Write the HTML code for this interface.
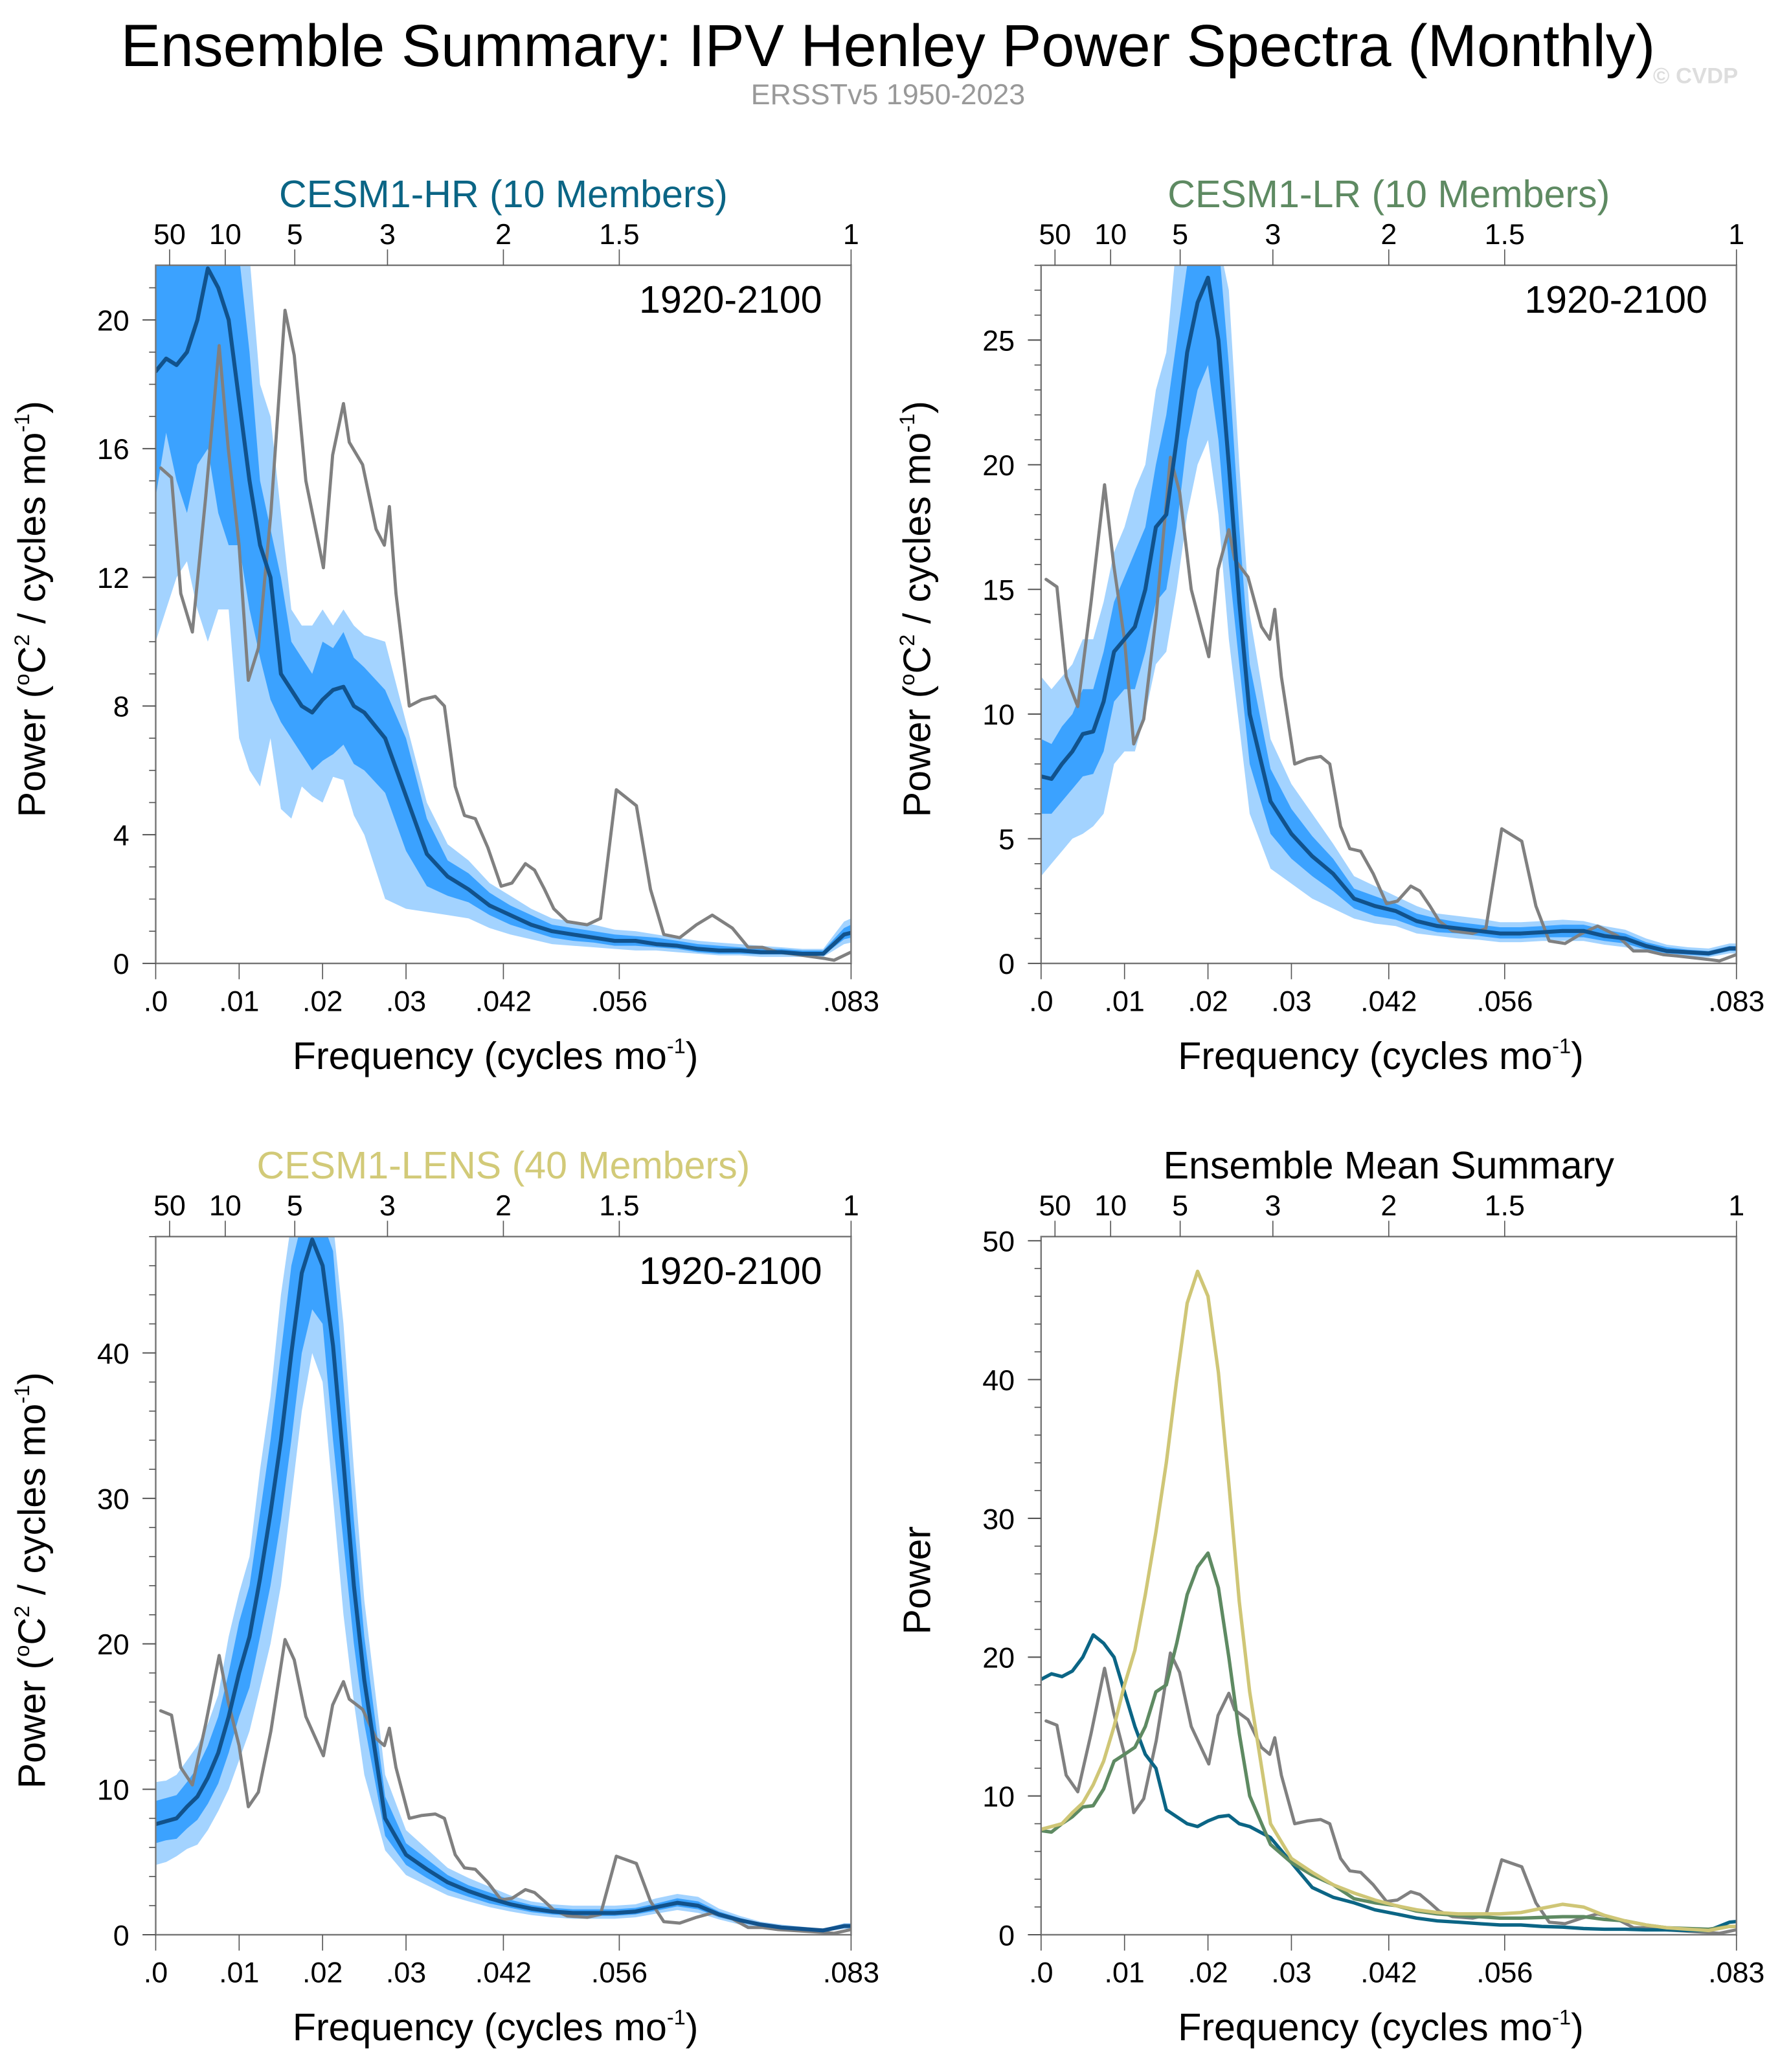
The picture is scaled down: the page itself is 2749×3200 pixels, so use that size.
<!DOCTYPE html>
<html><head><meta charset="utf-8"><style>
html,body{margin:0;padding:0;background:#fff;}
svg{display:block;font-family:"Liberation Sans",sans-serif;}
</style></head><body>
<svg id="fig" width="2749" height="3200" viewBox="0 0 1349 1570" preserveAspectRatio="none" xmlns="http://www.w3.org/2000/svg">
<text x="673" y="50" text-anchor="middle" font-size="45">Ensemble Summary: IPV Henley Power Spectra (Monthly)</text>
<text x="673" y="79" text-anchor="middle" font-size="22" fill="#999">ERSSTv5 1950-2023</text>
<text x="1285" y="63" text-anchor="middle" font-size="17" font-weight="bold" fill="#ddd">© CVDP</text>
</svg>
<script>
// ---- data ----
const freqs = [0,.00125,.0025,.00375,.005,.00625,.0075,.00875,.01,.01125,.0125,.01375,.015,.01625,.0175,.01875,.02,.02125,.0225,.02375,.025,.0275,.03,.0325,.035,.0375,.04,.0425,.045,.0475,.05,.0525,.055,.0575,.06,.0625,.065,.0675,.07,.0725,.075,.0775,.08,.0825,.08333];
const hrMean = [18.4,18.8,18.6,19.0,20.0,21.6,21.0,20.0,17.5,15.0,13.0,12.0,9.0,8.5,8.0,7.8,8.2,8.5,8.6,8.0,7.8,7.0,5.2,3.4,2.7,2.3,1.8,1.5,1.2,1.0,0.9,0.8,0.7,0.7,0.6,0.55,0.45,0.4,0.4,0.35,0.35,0.3,0.3,0.9,0.95];
const hrHi1 = [22,22,22,22,22,22,22,22,22,19,15,13.5,12,10,9.5,9,10,9.8,10.3,9.5,9.2,8.5,7,4.5,3.2,2.8,2.2,1.8,1.5,1.2,1.1,1.0,0.9,0.85,0.8,0.7,0.6,0.55,0.5,0.45,0.45,0.4,0.4,1.1,1.2];
const hrLo1 = [14.5,16.5,15,14,15.5,16,14,13,13,11,9.5,8.2,7.5,7,6.5,6,6.3,6.5,6.8,6.2,6,5.3,3.5,2.4,2.1,1.9,1.5,1.2,1.0,0.8,0.7,0.65,0.55,0.55,0.5,0.45,0.35,0.3,0.3,0.28,0.28,0.25,0.25,0.75,0.8];
const hrHi2 = [22,22,22,22,22,22,22,22,22,22,18,17,14,11,10.5,10.5,11,10.5,11,10.5,10.2,10,7.5,5,3.7,3.2,2.5,2.1,1.7,1.4,1.3,1.2,1.05,1.0,0.9,0.8,0.7,0.65,0.6,0.55,0.5,0.45,0.45,1.3,1.4];
const hrLo2 = [10,11,12,12.5,11,10,11,11,7,6,5.5,7,4.8,4.5,5.5,5.2,5,5.8,5.7,4.6,4,2,1.7,1.6,1.5,1.4,1.1,0.9,0.75,0.6,0.55,0.5,0.45,0.4,0.4,0.35,0.3,0.25,0.25,0.2,0.2,0.2,0.2,0.6,0.65];
const lrMean = [7.5,7.4,8.0,8.5,9.2,9.3,10.5,12.5,13.0,13.5,15.0,17.5,18.0,21.0,24.5,26.5,27.5,25.0,20.0,14.5,10.0,6.5,5.2,4.3,3.6,2.6,2.3,2.1,1.7,1.5,1.4,1.3,1.2,1.2,1.25,1.3,1.3,1.1,1.0,0.7,0.5,0.45,0.4,0.6,0.6];
const lrHi1 = [9,8.8,9.5,10,11,11,12.5,14.5,15.5,16.5,17.5,20,22,25,28,29,29,29,24,17.5,12,7.8,6.2,5.1,4.2,3.0,2.7,2.4,2.0,1.8,1.65,1.55,1.45,1.45,1.5,1.55,1.55,1.35,1.2,0.85,0.65,0.55,0.5,0.7,0.7];
const lrLo1 = [6,6,6.5,7,7.5,7.6,8.5,10.5,11,11,12.5,14.5,15,17.5,21,23,24,21,16,12,8,5.2,4.2,3.5,2.9,2.2,1.9,1.75,1.45,1.25,1.2,1.1,1.0,1.0,1.05,1.05,1.05,0.9,0.8,0.55,0.4,0.35,0.3,0.5,0.5];
const lrHi2 = [11.5,11,11.5,12,13,13,14.5,16.5,17.5,19,20,23,24.5,29,29,29,29,29,27,20,14,9,7.2,6,4.8,3.5,3.1,2.7,2.3,2.0,1.9,1.8,1.65,1.65,1.7,1.75,1.7,1.5,1.35,1.0,0.75,0.65,0.6,0.8,0.8];
const lrLo2 = [3.5,4,4.5,5,5.2,5.5,6,8,8.5,8.5,10,12,12.5,15,18,20,21,18,13,9.5,6,3.8,3.2,2.6,2.2,1.8,1.6,1.5,1.2,1.1,1.0,0.95,0.85,0.85,0.9,0.9,0.9,0.75,0.65,0.45,0.3,0.25,0.25,0.4,0.4];
const leMean = [7.6,7.8,8.0,8.8,9.5,10.8,12.5,15.0,18.0,20.5,24.5,29.0,34.0,40.0,45.5,47.8,46.0,40.5,32.5,24.0,17.5,8.0,5.5,4.5,3.6,3.0,2.5,2.1,1.8,1.6,1.5,1.5,1.5,1.6,1.9,2.2,2.0,1.4,1.0,0.7,0.5,0.4,0.3,0.6,0.6];
const leHi1 = [9.2,9.4,9.6,10.5,11.5,13,15,18,21.5,24,29,34,40,46,49,49,49,47,38,28.5,20.5,9.5,6.3,5.2,4.1,3.4,2.9,2.4,2.05,1.85,1.75,1.75,1.75,1.85,2.15,2.5,2.3,1.6,1.15,0.8,0.6,0.5,0.35,0.7,0.7];
const leLo1 = [6.3,6.5,6.6,7.3,7.9,9,10.4,12.5,15,17,20.5,24,28.5,34,40,43,42,34,27,20,14.5,6.8,4.8,3.9,3.1,2.6,2.15,1.85,1.55,1.4,1.3,1.3,1.3,1.4,1.65,1.95,1.75,1.2,0.85,0.6,0.4,0.3,0.25,0.5,0.5];
const leHi2 = [10.5,10.6,11,12,13,14.5,16.5,20.5,23.5,26,32,37,44,49,49,49,49,49,42,32,23,11,7.2,5.9,4.6,3.9,3.3,2.7,2.3,2.1,2.0,2.0,2.0,2.1,2.5,2.8,2.6,1.8,1.3,0.9,0.7,0.55,0.4,0.8,0.8];
const leLo2 = [4.8,5,5.4,5.9,6.2,7.2,8.5,10,12,14,17,20,24,30,36,40,38,30,22,16,11,5.8,4.1,3.4,2.7,2.3,1.9,1.6,1.35,1.2,1.1,1.1,1.1,1.2,1.45,1.7,1.5,1.05,0.7,0.5,0.35,0.25,0.2,0.4,0.4];
const obsFreq = [.0006,.0019,.0030,.0044,.0060,.0076,.0087,.0100,.0111,.0123,.0138,.0155,.0166,.0180,.0201,.0212,.0225,.0232,.0248,.0264,.0274,.0280,.0288,.0304,.0319,.0335,.0346,.0359,.0370,.0383,.0398,.0414,.0427,.0443,.0454,.0466,.0477,.0493,.0517,.0533,.0552,.0576,.0593,.0609,.0628,.0648,.0667,.0691,.0710,.0727,.0746,.0762,.0802,.0813,.0833];
const obsPower = [15.4,15.1,11.5,10.3,14.5,19.2,16.0,13.0,8.8,9.8,14.0,20.3,18.9,15.0,12.3,15.8,17.4,16.2,15.5,13.5,13.0,14.2,11.5,8.0,8.2,8.3,8.0,5.5,4.6,4.5,3.6,2.4,2.5,3.1,2.9,2.3,1.7,1.3,1.2,1.4,5.4,4.9,2.3,0.9,0.8,1.2,1.5,1.1,0.5,0.5,0.35,0.3,0.15,0.1,0.35];
const bottomTickVals = [0,.01,.02,.03,1/24,1/18,1/12];
const bottomTickLabels = [".0",".01",".02",".03",".042",".056",".083"];
const periodVals = [50,10,5,3,2,1.5,1];
const periodLabels = ["50","10","5","3","2","1.5","1"];

// ---- drawing ----
const NS="http://www.w3.org/2000/svg";
const svg=document.getElementById('fig');
function mk(tag,attrs,parent){const e=document.createElementNS(NS,tag);for(const k in attrs)e.setAttribute(k,attrs[k]);(parent||svg).appendChild(e);return e;}
const XMAX=1/12, W=527, H=529;

function panel(opt){
  const g=mk('g',{});
  
  
  const x0=opt.x, y0=opt.y;
  const sx=f=>x0+f/XMAX*W, sy=v=>y0+H-v/opt.ymax*H;
  const cid='clip-'+opt.name;
  const cp=mk('clipPath',{id:cid},g); mk('rect',{x:x0,y:y0,width:W,height:H},cp);
  const plot=mk('g',{'clip-path':'url(#'+cid+')'},g);
  
  
  function band(hi,lo,col,nm){
    let d='M'+freqs.map((f,i)=>sx(f).toFixed(1)+','+sy(hi[i]).toFixed(1)).join('L');
    for(let i=freqs.length-1;i>=0;i--) d+='L'+sx(freqs[i]).toFixed(1)+','+sy(lo[i]).toFixed(1);
    const p=mk('path',{d:d+'Z',fill:col},plot);
    
    
  }
  function line(fx,vals,col,w,nm){
    const d='M'+fx.map((f,i)=>sx(f).toFixed(1)+','+sy(vals[i]).toFixed(1)).join('L');
    const p=mk('path',{d:d,fill:'none',stroke:col,'stroke-width':w,'stroke-linejoin':'round','stroke-linecap':'round'},plot);
    
    
  }
  if(opt.bands){
    const b=opt.bands;
    band(b[2],b[3],'#a3d3ff','outer-spread-band');
    band(b[0],b[1],'#3ba2ff','inner-spread-band');
    line(obsFreq,obsPower,'#808080',2.4,'observed-spectrum-line');
    line(freqs,opt.mean,'#11528c',3,'ensemble-mean-line');
  } else {
    line(obsFreq,obsPower,'#808080',2.4,'observed-spectrum-line');
    line(freqs,hrMean,'#0b6585',2.6,'cesm1-hr-mean-line');
    line(freqs,lrMean,'#5e8a62',2.6,'cesm1-lr-mean-line');
    line(freqs,leMean,'#cfc676',2.6,'cesm1-lens-mean-line');
  }
  const frame=mk('rect',{x:x0,y:y0,width:W,height:H,fill:'none',stroke:'#777','stroke-width':1.2},g);
  
  
  for(let v=0;v<=opt.ymax+1e-6;v+=opt.minor){
    const isMaj=Math.abs(v/opt.major-Math.round(v/opt.major))<1e-6;
    mk('line',{x1:x0-(isMaj?10:5),x2:x0,y1:sy(v),y2:sy(v),stroke:'#555','stroke-width':isMaj?1:0.8},g);
    if(isMaj){const t=mk('text',{x:x0-20,y:sy(v)+8,'text-anchor':'end','font-size':22},g);t.textContent=String(v);
      
      }
  }
  bottomTickVals.forEach((f,i)=>{
    mk('line',{x1:sx(f),x2:sx(f),y1:y0+H,y2:y0+H+12,stroke:'#555','stroke-width':0.8},g);
    const t=mk('text',{x:sx(f),y:y0+H+36,'text-anchor':'middle','font-size':22},g);t.textContent=bottomTickLabels[i];
    
    
  });
  periodVals.forEach((p,i)=>{
    const f=1/(p*12);
    mk('line',{x1:sx(f),x2:sx(f),y1:y0-12,y2:y0,stroke:'#555','stroke-width':0.8},g);
    const t=mk('text',{x:sx(f),y:y0-16,'text-anchor':'middle','font-size':22},g);t.textContent=periodLabels[i];
    
    
  });
  const tt=mk('text',{x:x0+W/2,y:y0-44,'text-anchor':'middle','font-size':29,fill:opt.tcol},g);tt.textContent=opt.title;
  
  
  if(opt.bands){const r=mk('text',{x:x0+505,y:y0+36,'text-anchor':'end','font-size':29},g);r.textContent='1920-2100';
    
    }
  const xt=mk('text',{x:x0+W/2-6,y:y0+H+80,'text-anchor':'middle','font-size':29},g);
  xt.innerHTML='Frequency (cycles mo<tspan dy="-12" font-size="16">-1</tspan><tspan dy="12">)</tspan>';
  
  
  const cy=y0+H/2-4, cx=x0-84;
  const yt=mk('text',{x:cx,y:cy,'text-anchor':'middle','font-size':29,transform:'rotate(-90 '+cx+' '+cy+')'},g);
  if(opt.bands) yt.innerHTML='Power (<tspan dy="-12" font-size="16">o</tspan><tspan dy="12">C</tspan><tspan dy="-12" font-size="16">2</tspan><tspan dy="12"> / cycles mo</tspan><tspan dy="-12" font-size="16">-1</tspan><tspan dy="12">)</tspan>';
  else yt.textContent='Power';
  
  
}
panel({name:'cesm1-hr-panel',x:118,y:201,ymax:21.7,major:4,minor:1,title:'CESM1-HR (10 Members)',tcol:'#0b6585',mean:hrMean,bands:[hrHi1,hrLo1,hrHi2,hrLo2]});
panel({name:'cesm1-lr-panel',x:789,y:201,ymax:28,major:5,minor:1,title:'CESM1-LR (10 Members)',tcol:'#5e8a62',mean:lrMean,bands:[lrHi1,lrLo1,lrHi2,lrLo2]});
panel({name:'cesm1-lens-panel',x:118,y:937,ymax:48,major:10,minor:2,title:'CESM1-LENS (40 Members)',tcol:'#d2ca78',mean:leMean,bands:[leHi1,leLo1,leHi2,leLo2]});
panel({name:'ensemble-mean-summary-panel',x:789,y:937,ymax:50.3,major:10,minor:2,title:'Ensemble Mean Summary',tcol:'#000'});
</script>
</body></html>
